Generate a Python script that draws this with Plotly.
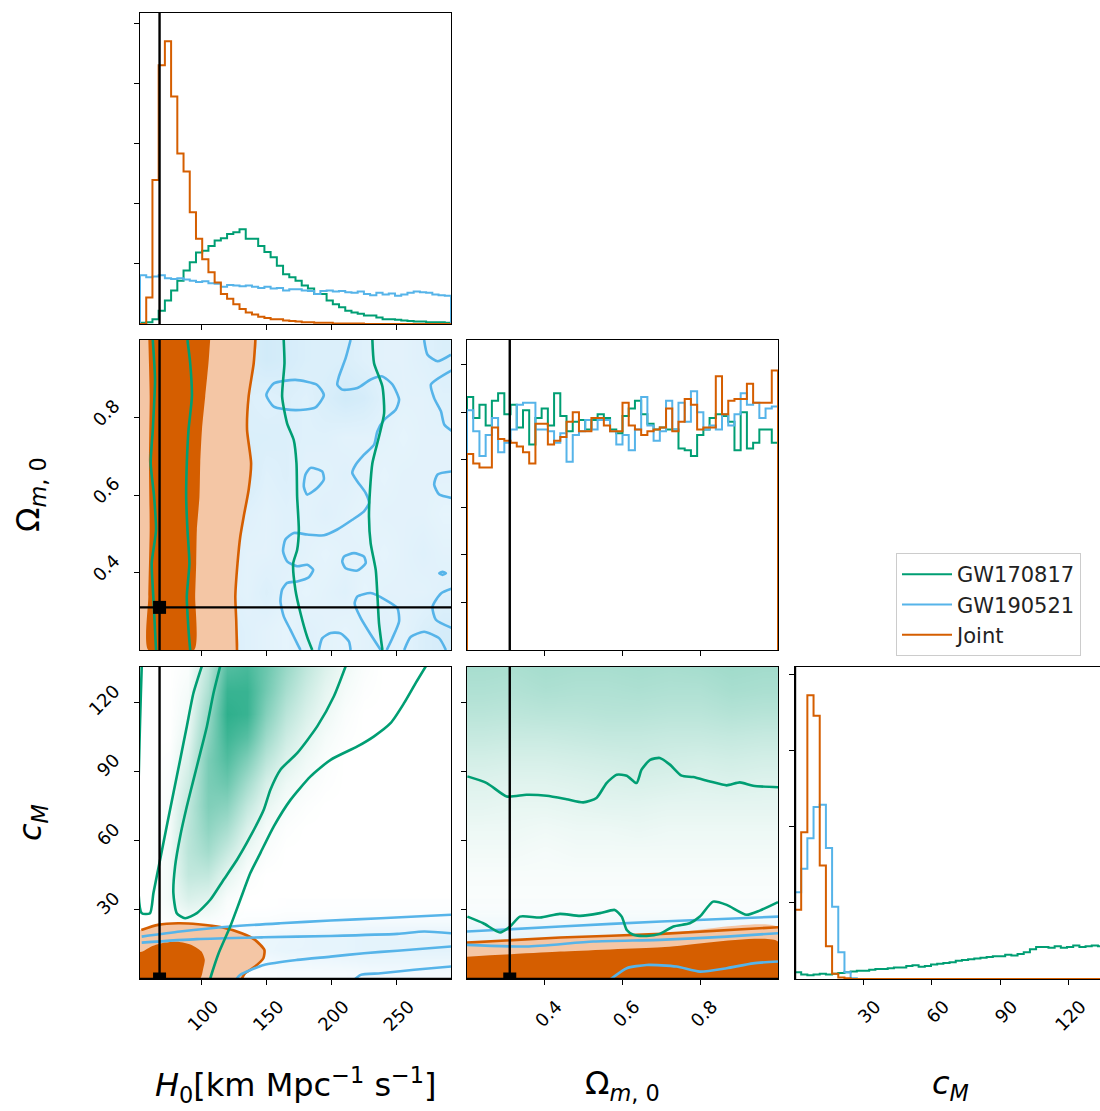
import numpy as np
import plotly.graph_objects as go

# ---------------- axis ranges / truth values ----------------
H0_RANGE = [53.0, 291.5]
OM_RANGE = [0.2, 1.0]
CM_RANGE = [0.0, 135.5]
CM_XRANGE = [0.0, 133.7]
H0_TRUE = 68.0
OM_TRUE = 0.31
CM_TRUE = 0.0

names = ["GW170817", "GW190521", "Joint"]
GREEN, BLUE, ORANGE = "#009e73", "#56b4e9", "#d55e00"
LIGHT_ORANGE = "#f4c6a5"

# ---------------- 1D histograms (50 bins each) ----------------
h0_gw170817 = [0.02, 0.03, 0.08, 0.22, 0.39, 0.56, 0.72, 0.89, 1.03, 1.19,
               1.22, 1.30, 1.39, 1.43, 1.50, 1.53, 1.58, 1.42, 1.42, 1.30,
               1.20, 1.11, 0.97, 0.83, 0.78, 0.72, 0.64, 0.59, 0.50, 0.50,
               0.39, 0.33, 0.28, 0.22, 0.19, 0.17, 0.14, 0.14, 0.11, 0.08,
               0.08, 0.07, 0.06, 0.05, 0.04, 0.04, 0.03, 0.03, 0.03, 0.02]
h0_gw190521 = [0.81, 0.78, 0.79, 0.81, 0.76, 0.75, 0.76, 0.74, 0.72, 0.70,
               0.71, 0.68, 0.67, 0.62, 0.65, 0.64, 0.63, 0.64, 0.62, 0.60,
               0.62, 0.59, 0.60, 0.56, 0.58, 0.58, 0.56, 0.55, 0.50, 0.55,
               0.56, 0.54, 0.55, 0.53, 0.52, 0.54, 0.50, 0.48, 0.52, 0.49,
               0.51, 0.47, 0.49, 0.52, 0.54, 0.53, 0.52, 0.49, 0.48, 0.47]
h0_joint = [0.00, 0.44, 2.40, 4.31, 4.71, 3.79, 2.84, 2.54, 1.86, 1.42,
            1.08, 0.86, 0.69, 0.50, 0.42, 0.33, 0.25, 0.19, 0.16, 0.12,
            0.10, 0.08, 0.08, 0.06, 0.05, 0.04, 0.03, 0.03, 0.02, 0.02,
            0.02, 0.01, 0.01, 0.01, 0.01, 0.01, 0.00, 0.00, 0.00, 0.00,
            0.00, 0.00, 0.00, 0.00, 0.00, 0.00, 0.00, 0.00, 0.00, 0.00]

om_gw170817 = [1.33, 1.22, 1.29, 1.18, 1.31, 1.35, 1.24, 1.29, 1.17, 1.26,
               1.08, 1.22, 1.27, 1.18, 1.35, 1.23, 1.15, 1.20, 1.21, 1.16,
               1.21, 1.24, 1.22, 1.16, 1.14, 1.23, 1.27, 1.31, 1.24, 1.19,
               1.16, 1.17, 1.16, 1.16, 1.06, 1.05, 1.02, 1.13, 1.16, 1.22,
               1.24, 1.23, 1.20, 1.05, 1.25, 1.06, 1.09, 1.16, 1.16, 1.09]
om_gw190521 = [1.26, 1.15, 1.02, 1.13, 1.22, 1.04, 1.09, 1.16, 1.29, 1.30,
               1.30, 1.16, 1.16, 1.15, 1.09, 1.14, 0.99, 1.13, 1.15, 1.21,
               1.16, 1.21, 1.21, 1.15, 1.08, 1.13, 1.05, 1.16, 1.33, 1.18,
               1.10, 1.15, 1.31, 1.16, 1.30, 1.20, 1.36, 1.25, 1.16, 1.18,
               1.16, 1.24, 1.18, 1.24, 1.35, 1.29, 1.30, 1.22, 1.27, 1.28]
om_joint = [1.03, 0.98, 0.96, 0.96, 1.17, 1.11, 1.10, 1.09, 1.07, 1.04,
            0.98, 1.19, 1.19, 1.08, 1.10, 1.12, 1.20, 1.25, 1.15, 1.15,
            1.22, 1.22, 1.18, 1.15, 1.15, 1.30, 1.18, 1.16, 1.13, 1.15,
            1.16, 1.17, 1.27, 1.15, 1.20, 1.32, 1.29, 1.16, 1.17, 1.17,
            1.44, 1.24, 1.31, 1.32, 1.32, 1.40, 1.30, 1.30, 1.30, 1.47]

cm_gw170817 = [0.09, 0.06, 0.05, 0.06, 0.07, 0.06, 0.07, 0.08, 0.09, 0.10,
               0.11, 0.11, 0.12, 0.13, 0.13, 0.14, 0.15, 0.15, 0.17, 0.18,
               0.16, 0.17, 0.19, 0.20, 0.21, 0.22, 0.24, 0.25, 0.26, 0.27,
               0.28, 0.29, 0.30, 0.30, 0.32, 0.31, 0.33, 0.35, 0.39, 0.42,
               0.42, 0.41, 0.43, 0.41, 0.42, 0.44, 0.42, 0.43, 0.44, 0.43]
cm_gw190521 = [1.14, 1.45, 1.85, 2.26, 2.29, 1.72, 0.95, 0.35, 0.09, 0.01,
               0.00, 0.00, 0.00, 0.00, 0.00, 0.00, 0.00, 0.00, 0.00, 0.00,
               0.00, 0.00, 0.00, 0.00, 0.00, 0.00, 0.00, 0.00, 0.00, 0.00,
               0.00, 0.00, 0.00, 0.00, 0.00, 0.00, 0.00, 0.00, 0.00, 0.00,
               0.00, 0.00, 0.00, 0.00, 0.00, 0.00, 0.00, 0.00, 0.00, 0.00]
cm_joint = [0.91, 1.93, 3.73, 3.46, 1.49, 0.43, 0.07, 0.02, 0.01, 0.00,
            0.00, 0.00, 0.00, 0.00, 0.00, 0.00, 0.00, 0.00, 0.00, 0.00,
            0.00, 0.00, 0.00, 0.00, 0.00, 0.00, 0.00, 0.00, 0.00, 0.00,
            0.00, 0.00, 0.00, 0.00, 0.00, 0.00, 0.00, 0.00, 0.00, 0.00,
            0.00, 0.00, 0.00, 0.00, 0.00, 0.00, 0.00, 0.00, 0.00, 0.00]

# ---------------- 2D density shading ----------------
hm_h0 = [60, 75, 90, 105, 120, 135, 150, 165, 180, 195, 210, 225, 240, 255, 270, 285]
hm_om_rows = [0.25, 0.35, 0.45, 0.55, 0.65, 0.75, 0.85, 0.95]
hm_om_cols = [0.24, 0.32, 0.40, 0.48, 0.56, 0.64, 0.72, 0.80, 0.88, 0.96]
hm_cm_rows = [5, 15, 25, 35, 45, 55, 65, 75, 85, 95, 105, 115, 125, 135]
hm_cm_low_rows = [2.5, 7.5, 12.5, 17.5, 22.5, 27.5, 32.5]

gw190521_h0_om_dens = [
    [0.17, 0.17, 0.17, 0.19, 0.22, 0.19, 0.17, 0.15, 0.19, 0.17, 0.15, 0.17, 0.19, 0.17, 0.22, 0.25],
    [0.17, 0.17, 0.17, 0.19, 0.19, 0.17, 0.21, 0.17, 0.15, 0.17, 0.19, 0.15, 0.17, 0.17, 0.17, 0.19],
    [0.17, 0.17, 0.17, 0.17, 0.21, 0.17, 0.17, 0.19, 0.17, 0.15, 0.17, 0.17, 0.15, 0.17, 0.19, 0.17],
    [0.19, 0.19, 0.19, 0.22, 0.25, 0.19, 0.17, 0.19, 0.17, 0.19, 0.17, 0.15, 0.17, 0.17, 0.17, 0.15],
    [0.19, 0.19, 0.19, 0.22, 0.27, 0.25, 0.19, 0.21, 0.17, 0.17, 0.19, 0.17, 0.15, 0.17, 0.17, 0.17],
    [0.17, 0.17, 0.17, 0.19, 0.23, 0.22, 0.22, 0.21, 0.19, 0.19, 0.17, 0.17, 0.17, 0.15, 0.17, 0.17],
    [0.17, 0.17, 0.17, 0.17, 0.19, 0.21, 0.19, 0.21, 0.19, 0.23, 0.27, 0.25, 0.19, 0.17, 0.17, 0.19],
    [0.17, 0.17, 0.17, 0.19, 0.19, 0.23, 0.27, 0.25, 0.22, 0.21, 0.22, 0.19, 0.17, 0.17, 0.19, 0.22],
]
gw170817_h0_cm_dens = [
    [0, 0, 0, 0, 0, 0, 0, 0, 0, 0, 0, 0, 0, 0, 0, 0],
    [0, 0, 0, 0, 0, 0, 0, 0, 0, 0, 0, 0, 0, 0, 0, 0],
    [0, 0.01, 0.03, 0.02, 0, 0, 0, 0, 0, 0, 0, 0, 0, 0, 0, 0],
    [0, 0.05, 0.15, 0.12, 0.03, 0, 0, 0, 0, 0, 0, 0, 0, 0, 0, 0],
    [0, 0.05, 0.24, 0.24, 0.10, 0.02, 0, 0, 0, 0, 0, 0, 0, 0, 0, 0],
    [0, 0.05, 0.27, 0.36, 0.22, 0.07, 0.02, 0, 0, 0, 0, 0, 0, 0, 0, 0],
    [0, 0.04, 0.27, 0.44, 0.34, 0.14, 0.04, 0.01, 0, 0, 0, 0, 0, 0, 0, 0],
    [0, 0.03, 0.25, 0.50, 0.46, 0.24, 0.09, 0.03, 0.01, 0, 0, 0, 0, 0, 0, 0],
    [0, 0.02, 0.20, 0.52, 0.58, 0.36, 0.16, 0.07, 0.03, 0.01, 0, 0, 0, 0, 0, 0],
    [0, 0.01, 0.15, 0.52, 0.68, 0.50, 0.27, 0.13, 0.06, 0.02, 0, 0, 0, 0, 0, 0],
    [0, 0, 0.10, 0.46, 0.76, 0.66, 0.38, 0.20, 0.10, 0.04, 0.01, 0, 0, 0, 0, 0],
    [0, 0, 0.06, 0.40, 0.82, 0.78, 0.48, 0.27, 0.15, 0.07, 0.02, 0, 0, 0, 0, 0],
    [0, 0, 0.04, 0.32, 0.78, 0.78, 0.55, 0.34, 0.20, 0.10, 0.04, 0.01, 0, 0, 0, 0],
    [0, 0, 0.02, 0.26, 0.68, 0.72, 0.58, 0.40, 0.25, 0.14, 0.06, 0.02, 0, 0, 0, 0],
]
gw190521_h0_cm_dens = [
    [0, 0, 0, 0, 0, 0.02, 0.04, 0.05, 0.05, 0.06, 0.06, 0.07, 0.08, 0.08, 0.08, 0.08],
    [0, 0, 0, 0, 0.03, 0.06, 0.08, 0.10, 0.10, 0.10, 0.11, 0.12, 0.12, 0.12, 0.12, 0.12],
    [0, 0, 0, 0.03, 0.06, 0.10, 0.12, 0.14, 0.14, 0.15, 0.15, 0.16, 0.16, 0.16, 0.16, 0.16],
    [0, 0, 0, 0.03, 0.06, 0.09, 0.12, 0.13, 0.14, 0.15, 0.15, 0.16, 0.16, 0.16, 0.17, 0.17],
    [0, 0, 0, 0.02, 0.04, 0.05, 0.06, 0.07, 0.08, 0.08, 0.09, 0.10, 0.10, 0.10, 0.10, 0.10],
    [0, 0, 0, 0, 0.01, 0.02, 0.02, 0.03, 0.03, 0.03, 0.04, 0.04, 0.04, 0.04, 0.04, 0.04],
    [0, 0, 0, 0, 0, 0, 0, 0.01, 0.01, 0.01, 0.01, 0.01, 0.01, 0.01, 0.01, 0.01],
]
gw170817_om_cm_dens = [
    [0, 0, 0, 0, 0, 0, 0, 0, 0, 0],
    [0, 0, 0, 0, 0, 0, 0, 0, 0, 0],
    [0.01, 0.01, 0.01, 0.01, 0.01, 0.01, 0.01, 0.01, 0.01, 0.01],
    [0.02, 0.02, 0.02, 0.02, 0.02, 0.02, 0.02, 0.02, 0.02, 0.02],
    [0.03, 0.03, 0.03, 0.03, 0.03, 0.03, 0.03, 0.03, 0.03, 0.03],
    [0.05, 0.05, 0.04, 0.05, 0.05, 0.05, 0.05, 0.05, 0.05, 0.05],
    [0.07, 0.07, 0.06, 0.07, 0.07, 0.08, 0.07, 0.07, 0.07, 0.07],
    [0.10, 0.09, 0.09, 0.10, 0.11, 0.11, 0.10, 0.10, 0.10, 0.10],
    [0.13, 0.12, 0.12, 0.13, 0.14, 0.15, 0.14, 0.13, 0.14, 0.13],
    [0.17, 0.16, 0.16, 0.17, 0.18, 0.19, 0.18, 0.17, 0.18, 0.17],
    [0.22, 0.21, 0.21, 0.22, 0.23, 0.23, 0.22, 0.22, 0.23, 0.22],
    [0.27, 0.26, 0.27, 0.27, 0.28, 0.28, 0.27, 0.27, 0.29, 0.28],
    [0.31, 0.30, 0.32, 0.31, 0.31, 0.32, 0.31, 0.31, 0.34, 0.33],
    [0.34, 0.33, 0.35, 0.34, 0.34, 0.35, 0.34, 0.35, 0.37, 0.36],
]
gw190521_om_cm_dens = [
    [0.10, 0.10, 0.10, 0.10, 0.10, 0.10, 0.10, 0.10, 0.10, 0.10],
    [0.12, 0.12, 0.12, 0.12, 0.12, 0.12, 0.12, 0.12, 0.12, 0.12],
    [0.14, 0.14, 0.14, 0.14, 0.14, 0.14, 0.14, 0.14, 0.14, 0.14],
    [0.14, 0.14, 0.14, 0.14, 0.14, 0.14, 0.14, 0.14, 0.14, 0.14],
    [0.10, 0.10, 0.10, 0.10, 0.10, 0.10, 0.10, 0.10, 0.10, 0.10],
    [0.04, 0.04, 0.04, 0.04, 0.04, 0.04, 0.04, 0.04, 0.04, 0.04],
    [0.01, 0.01, 0.01, 0.01, 0.01, 0.01, 0.01, 0.01, 0.01, 0.01],
]

# ---------------- credible-region contours ----------------
# H0 - Omega_m panel
joint_ho_2s_h0 = [141.5, 140.2, 136.3, 135.1, 138.2, 136.3, 132.5, 129.9, 127.8, 126.1, 126.8, 127.4]
joint_ho_2s_om = [1.0, 0.94, 0.854, 0.768, 0.682, 0.613, 0.544, 0.493, 0.424, 0.338, 0.277, 0.2]
joint_ho_1s_left_h0 = [59.4, 60.4, 59.9, 60.4, 59.4, 59.4]
joint_ho_1s_left_om = [1.0, 0.854, 0.682, 0.51, 0.338, 0.2]
joint_ho_1s_right_h0 = [106.8, 105.5, 103.0, 100.5, 99.2, 98.6, 96.6, 96.1, 95.3, 94.5]
joint_ho_1s_right_om = [1.0, 0.94, 0.854, 0.768, 0.682, 0.596, 0.51, 0.424, 0.338, 0.2]

gw17_ho_lines = [
    ([62.8, 64.5, 62.8, 61.2, 63.8, 65.3, 62.0, 63.2, 65.3],
     [1.0, 0.897, 0.768, 0.682, 0.596, 0.51, 0.424, 0.338, 0.2]),
    ([89.4, 91.5, 92.8, 90.2, 88.9, 88.4, 89.4, 90.9, 88.9, 90.2, 91.5],
     [1.0, 0.94, 0.854, 0.768, 0.682, 0.596, 0.51, 0.424, 0.338, 0.252, 0.2]),
    ([163.2, 163.8, 162.0, 165.8, 170.9, 173.0, 173.5, 174.8, 173.5, 170.5, 172.2, 176.1, 181.2, 185.1],
     [1.0, 0.94, 0.854, 0.785, 0.742, 0.682, 0.596, 0.51, 0.458, 0.424, 0.355, 0.295, 0.234, 0.2]),
    ([231.2, 232.5, 238.9, 240.2, 236.3, 231.2, 229.4, 228.6, 229.9, 233.8, 235.1, 236.3, 238.9],
     [1.0, 0.94, 0.88, 0.811, 0.751, 0.682, 0.613, 0.544, 0.475, 0.406, 0.338, 0.269, 0.2]),
]
gw19_ho_lines = [
    ([149.9, 155.6, 172.2, 188.9, 194.0, 187.6, 172.2, 155.6, 149.9],
     [0.858, 0.888, 0.897, 0.884, 0.858, 0.826, 0.819, 0.828, 0.858]),
    ([214.5, 210.7, 205.6, 204.3, 208.1, 219.7, 229.9, 238.9, 246.6, 251.7, 249.1, 240.2, 235.0, 232.5,
      224.8, 218.4, 215.8, 219.7, 226.1, 228.6, 224.8, 215.8, 204.3, 194.0, 181.2, 171.0, 164.5, 162.7,
      165.8, 173.5, 181.2, 185.8, 182.5, 173.5, 165.8, 162.0, 160.7, 163.3, 168.4, 173.5, 176.1],
     [1.0, 0.953, 0.906, 0.885, 0.872, 0.876, 0.898, 0.906, 0.885, 0.846, 0.820, 0.794, 0.764, 0.730,
      0.704, 0.678, 0.657, 0.635, 0.605, 0.579, 0.558, 0.536, 0.511, 0.496, 0.498, 0.502, 0.485, 0.455,
      0.429, 0.416, 0.420, 0.407, 0.388, 0.377, 0.373, 0.356, 0.326, 0.286, 0.252, 0.217, 0.2]),
    ([183.8, 192.7, 194.0, 188.9, 181.2, 178.6, 179.9, 183.8],
     [0.670, 0.661, 0.640, 0.618, 0.601, 0.622, 0.653, 0.670]),
    ([209.4, 217.1, 224.8, 226.1, 219.7, 210.7, 208.1, 209.4],
     [0.441, 0.450, 0.441, 0.424, 0.405, 0.411, 0.428, 0.441]),
    ([282.5, 285.0, 287.6, 285.0, 282.5],
     [0.398, 0.402, 0.398, 0.394, 0.398]),
    ([237.6, 229.9, 222.2, 217.6, 219.7, 229.9, 241.5, 250.4, 251.7, 246.6, 242.2],
     [0.2, 0.240, 0.283, 0.320, 0.338, 0.347, 0.329, 0.308, 0.274, 0.231, 0.2]),
    ([190.2, 192.7, 199.2, 206.8, 213.2, 214.5],
     [0.2, 0.230, 0.244, 0.243, 0.222, 0.2]),
    ([270.9, 273.5, 281.2, 291.5],
     [1.0, 0.962, 0.945, 0.962]),
    ([292.7, 276.1, 278.6, 283.8, 286.3, 292.7],
     [0.923, 0.885, 0.850, 0.816, 0.782, 0.764]),
    ([292.7, 281.2, 278.6, 282.5, 292.7],
     [0.661, 0.653, 0.627, 0.601, 0.592]),
    ([292.7, 283.8, 277.3, 279.9, 292.7],
     [0.359, 0.346, 0.312, 0.278, 0.256]),
    ([255.6, 260.7, 270.9, 282.5, 287.6],
     [0.2, 0.234, 0.247, 0.230, 0.2]),
]

# H0 - c_M panel
joint_hc_2s_h0 = [54.0, 66.8, 82.2, 97.6, 115.6, 131.0, 141.2, 148.4, 147.6, 141.2, 133.5, 131.0]
joint_hc_2s_cm = [21.3, 23.5, 24.2, 23.8, 22.5, 19.9, 17.0, 12.6, 9.0, 5.4, 2.4, 0.0]
joint_hc_1s_h0 = [54.3, 61.7, 72.0, 82.2, 92.5, 100.2, 102.7, 101.5, 98.9]
joint_hc_1s_cm = [11.8, 14.1, 15.8, 16.2, 14.8, 11.9, 8.3, 4.6, 0.0]
gw17_hc_lines = [
    ([54.3, 54.3, 60.7, 63.3, 68.4, 73.5, 78.6, 83.8, 88.9, 94.0, 100.4],
     [135.5, 28.6, 28.6, 37.3, 51.8, 66.3, 80.7, 95.2, 109.7, 124.2, 135.8]),
    ([106.8, 108.1, 113.3, 122.2, 129.9, 137.6, 145.3, 155.6, 168.4, 183.8, 199.2, 219.7, 232.5, 245.3,
      255.6, 264.5, 272.2],
     [0.0, 2.5, 11.2, 22.8, 34.4, 46.0, 54.7, 66.3, 77.8, 88.0, 95.2, 101.0, 105.4, 111.2, 119.9, 128.6,
      135.8]),
    ([114.5, 109.4, 104.3, 99.2, 94.0, 88.9, 83.8, 79.9, 78.6, 81.2, 87.6, 96.6, 106.9, 117.1, 127.4,
      137.6, 147.9, 153.0, 160.7, 173.5, 188.9, 201.7, 210.7],
     [135.8, 124.2, 109.7, 98.1, 86.5, 74.9, 61.9, 48.9, 37.3, 28.6, 26.4, 28.6, 34.4, 43.1, 51.8, 61.9,
      73.5, 82.2, 90.9, 98.1, 109.7, 122.8, 135.8]),
]
gw19_hc_lines = [
    ([54.3, 83.8, 122.2, 160.7, 199.2, 237.6, 291.5], [18.4, 20.6, 22.8, 24.2, 25.4, 26.4, 27.9]),
    ([54.3, 96.6, 147.9, 199.2, 250.4, 270.9, 291.5], [15.8, 17.3, 18.1, 18.7, 19.6, 20.6, 19.9]),
    ([127.0, 129.9, 147.9, 173.5, 199.2, 224.8, 250.4, 291.5], [0.0, 1.8, 6.1, 8.3, 9.7, 11.2, 12.3, 14.1]),
    ([218.0, 222.2, 237.6, 263.3, 291.5], [0.0, 1.8, 2.5, 4.0, 5.4]),
]

# Omega_m - c_M panel
joint_oc_om = [0.2, 0.44, 0.7, 1.0]
joint_oc_2s_cm = [15.8, 18.0, 19.6, 22.5]
joint_oc_1s_cm = [9.7, 11.9, 13.8, 16.3]
gw17_oc_lines = [
    ([0.201, 0.251, 0.302, 0.353, 0.405, 0.456, 0.499, 0.533, 0.559, 0.585, 0.611, 0.636, 0.649, 0.671,
      0.696, 0.722, 0.752, 0.782, 0.825, 0.868, 0.902, 0.936, 1.0],
     [88.0, 85.1, 79.3, 80.0, 79.6, 78.1, 76.7, 78.6, 85.1, 88.7, 88.3, 85.1, 90.9, 95.2, 96.0, 93.1,
      88.3, 87.7, 85.8, 84.1, 85.4, 83.9, 83.3]),
    ([0.201, 0.242, 0.285, 0.311, 0.336, 0.388, 0.439, 0.491, 0.542, 0.580, 0.598, 0.611, 0.628, 0.662,
      0.696, 0.731, 0.773, 0.799, 0.833, 0.868, 0.919, 0.953, 1.0],
     [27.1, 24.2, 20.2, 22.8, 27.1, 26.7, 28.3, 27.4, 28.6, 30.0, 27.1, 21.3, 19.2, 18.7, 19.6, 22.8,
      24.2, 27.1, 33.6, 32.2, 27.9, 29.7, 33.4]),
]
gw19_oc_lines = [
    ([0.2, 0.44, 0.7, 1.0], [20.6, 22.8, 25.0, 27.1]),
    ([0.2, 0.353, 0.525, 0.696, 0.868, 1.0], [14.8, 14.1, 16.3, 17.0, 18.4, 19.9]),
    ([0.570, 0.611, 0.662, 0.739, 0.799, 0.868, 0.936, 1.0], [0.0, 4.7, 6.1, 5.4, 3.2, 4.7, 6.8, 7.6]),
]

# ---------------- figure ----------------
fig = go.Figure()


def step_xy(vals, lo, hi):
    edges = np.linspace(lo, hi, len(vals) + 1)
    xs = [edges[0]] + list(edges[:-1]) + [edges[-1], edges[-1]]
    ys = [0] + list(vals) + [vals[-1], 0]
    return xs, ys


def add_hist(vals, rng, color, ax, name=None, legend=False):
    xs, ys = step_xy(vals, rng[0], rng[1])
    fig.add_trace(go.Scatter(x=xs, y=ys, mode="lines", line=dict(color=color, width=2, shape="hv"),
                             xaxis="x" + ax, yaxis="y" + ax, name=name, showlegend=legend,
                             hoverinfo="skip"))


def add_heat(x, y, z, rgb, ax):
    fig.add_trace(go.Heatmap(x=x, y=y, z=z, zmin=0, zmax=1, zsmooth="best", showscale=False,
                             colorscale=[[0, "rgba(%s,0)" % rgb], [1, "rgba(%s,1)" % rgb]],
                             xaxis="x" + ax, yaxis="y" + ax, hoverinfo="skip"))


def add_fill(x, y, color, ax):
    fig.add_trace(go.Scatter(x=x, y=y, mode="lines", fill="toself", fillcolor=color,
                             line=dict(width=0, color=color, shape="spline", smoothing=0.6),
                             xaxis="x" + ax, yaxis="y" + ax, showlegend=False, hoverinfo="skip"))


def add_line(x, y, color, ax, width=2.6):
    fig.add_trace(go.Scatter(x=x, y=y, mode="lines",
                             line=dict(color=color, width=width, shape="spline", smoothing=0.6),
                             xaxis="x" + ax, yaxis="y" + ax, showlegend=False, hoverinfo="skip"))


# 1D histograms
add_hist(h0_gw170817, H0_RANGE, GREEN, "", names[0], True)
add_hist(h0_gw190521, H0_RANGE, BLUE, "", names[1], True)
add_hist(h0_joint, H0_RANGE, ORANGE, "", names[2], True)
add_hist(om_gw170817, OM_RANGE, GREEN, "3")
add_hist(om_gw190521, OM_RANGE, BLUE, "3")
add_hist(om_joint, OM_RANGE, ORANGE, "3")
add_hist(cm_gw170817, CM_RANGE, GREEN, "6")
add_hist(cm_gw190521, CM_RANGE, BLUE, "6")
add_hist(cm_joint, CM_RANGE, ORANGE, "6")

# shading
add_heat(hm_h0, hm_om_rows, gw190521_h0_om_dens, "86,180,233", "2")
add_heat(hm_h0, hm_cm_rows, gw170817_h0_cm_dens, "0,158,115", "4")
add_heat(hm_h0, hm_cm_low_rows, gw190521_h0_cm_dens, "86,180,233", "4")
add_heat(hm_om_cols, hm_cm_rows, gw170817_om_cm_dens, "0,158,115", "5")
add_heat(hm_om_cols, hm_cm_low_rows, gw190521_om_cm_dens, "86,180,233", "5")

# joint filled regions, H0-Om
add_fill([H0_RANGE[0] - 5] + joint_ho_2s_h0 + [H0_RANGE[0] - 5],
         [OM_RANGE[1]] + joint_ho_2s_om + [OM_RANGE[0]], LIGHT_ORANGE, "2")
add_fill(joint_ho_1s_left_h0 + joint_ho_1s_right_h0[::-1],
         joint_ho_1s_left_om + joint_ho_1s_right_om[::-1], ORANGE, "2")
add_line(joint_ho_2s_h0, joint_ho_2s_om, ORANGE, "2")
for xs, ys in gw19_ho_lines:
    add_line(xs, ys, BLUE, "2")
for xs, ys in gw17_ho_lines:
    add_line(xs, ys, GREEN, "2")

# joint filled regions, H0-cM
add_fill([H0_RANGE[0] - 5] + joint_hc_2s_h0 + [H0_RANGE[0] - 5],
         [joint_hc_2s_cm[0]] + joint_hc_2s_cm + [-3], LIGHT_ORANGE, "4")
add_fill([H0_RANGE[0] - 5] + joint_hc_1s_h0 + [H0_RANGE[0] - 5],
         [joint_hc_1s_cm[0]] + joint_hc_1s_cm + [-3], ORANGE, "4")
add_line(joint_hc_2s_h0, joint_hc_2s_cm, ORANGE, "4")
for xs, ys in gw19_hc_lines:
    add_line(xs, ys, BLUE, "4")
for xs, ys in gw17_hc_lines:
    add_line(xs, ys, GREEN, "4")

# joint filled regions, Om-cM
add_fill(joint_oc_om + [OM_RANGE[1], OM_RANGE[0]], joint_oc_2s_cm + [-3, -3], LIGHT_ORANGE, "5")
add_fill(joint_oc_om + [OM_RANGE[1], OM_RANGE[0]], joint_oc_1s_cm + [-3, -3], ORANGE, "5")
add_line(joint_oc_om, joint_oc_2s_cm, ORANGE, "5")
for xs, ys in gw19_oc_lines:
    add_line(xs, ys, BLUE, "5")
for xs, ys in gw17_oc_lines:
    add_line(xs, ys, GREEN, "5")

# truth markers
for xv, yv, ax in [(H0_TRUE, OM_TRUE, "2"), (H0_TRUE, CM_TRUE, "4"), (OM_TRUE, CM_TRUE, "5")]:
    fig.add_trace(go.Scatter(x=[xv], y=[yv], mode="markers", cliponaxis=True,
                             marker=dict(symbol="square", size=13, color="black"),
                             xaxis="x" + ax, yaxis="y" + ax, showlegend=False, hoverinfo="skip"))

TRUTH_LINE = dict(color="black", width=2.4)
shapes = []
for ax in ["", "2", "4"]:
    shapes.append(dict(type="line", xref="x" + ax, yref="y%s domain" % ax, x0=H0_TRUE, x1=H0_TRUE,
                       y0=0, y1=1, line=TRUTH_LINE))
for ax in ["3", "5"]:
    shapes.append(dict(type="line", xref="x" + ax, yref="y%s domain" % ax, x0=OM_TRUE, x1=OM_TRUE,
                       y0=0, y1=1, line=TRUTH_LINE))
shapes.append(dict(type="line", xref="x2 domain", yref="y2", x0=0, x1=1, y0=OM_TRUE, y1=OM_TRUE,
                   line=TRUTH_LINE))
for ax in ["4", "5"]:
    shapes.append(dict(type="line", xref="x%s domain" % ax, yref="y" + ax, x0=0, x1=1, y0=CM_TRUE,
                       y1=CM_TRUE, line=TRUTH_LINE))
shapes.append(dict(type="line", xref="x6", yref="y6 domain", x0=CM_TRUE, x1=CM_TRUE, y0=0, y1=1,
                   line=TRUTH_LINE))

# ---------------- layout ----------------
W, H = 1100, 1111
c0 = [140 / W, 451 / W]
c1 = [467 / W, 778 / W]
c2 = [795 / W, 1.0]
r0 = [1 - 324 / H, 1 - 13 / H]
r1 = [1 - 650 / H, 1 - 340 / H]
r2 = [1 - 979 / H, 1 - 667 / H]

TICKFONT = dict(family="DejaVu Sans", size=18, color="black")


def axis(domain, rng, tickvals, labels, anchor, shift=0, standoff=0):
    d = dict(domain=domain, range=rng, anchor=anchor, tickvals=tickvals, showticklabels=labels,
             ticks="outside", ticklen=5, tickwidth=1, tickcolor="black", showline=True,
             linecolor="black", linewidth=1, mirror=True, showgrid=False, zeroline=False,
             tickangle=-45, tickfont=TICKFONT, ticklabelshift=shift, fixedrange=True)
    if standoff:
        d["ticklabelstandoff"] = standoff
    return d


h0_ticks = [100, 150, 200, 250]
om_ticks = [0.4, 0.6, 0.8]
cm_ticks = [30, 60, 90, 120]

fig.update_layout(
    width=W, height=H, margin=dict(l=0, r=0, t=0, b=0),
    paper_bgcolor="white", plot_bgcolor="white",
    font=dict(family="DejaVu Sans", color="black"),
    xaxis=axis(c0, H0_RANGE, h0_ticks, False, "y"),
    yaxis=axis(r0, [0, 5.18], [1, 2, 3, 4, 5], False, "x"),
    xaxis2=axis(c0, H0_RANGE, h0_ticks, False, "y2"),
    yaxis2=axis(r1, OM_RANGE, om_ticks, True, "x2", -14, 16),
    xaxis3=axis(c1, OM_RANGE, om_ticks, False, "y3"),
    yaxis3=axis(r1, [0, 1.63], [0.25, 0.5, 0.75, 1.0, 1.25, 1.5], False, "x3"),
    xaxis4=axis(c0, H0_RANGE, h0_ticks, True, "y4", 12, 4),
    yaxis4=axis(r2, CM_RANGE, cm_ticks, True, "x4", -14, 16),
    xaxis5=axis(c1, OM_RANGE, om_ticks, True, "y5", 12, 4),
    yaxis5=axis(r2, CM_RANGE, cm_ticks, False, "x5"),
    xaxis6=axis(c2, CM_XRANGE, cm_ticks, True, "y6", 12, 4),
    yaxis6=axis(r2, [0, 4.1], [1, 2, 3, 4], False, "x6"),
    shapes=shapes,
    showlegend=True,
    legend=dict(x=896 / W, y=1 - 553 / H, xanchor="left", yanchor="top", itemwidth=50,
                bgcolor="white", bordercolor="#cccccc", borderwidth=1,
                font=dict(family="DejaVu Sans", size=21, color="#222222")),
)

LABELFONT = dict(family="DejaVu Sans", size=32, color="black")
annotations = [
    dict(text="<i>H</i><sub>0</sub>[km Mpc<sup>\u22121</sup> s<sup>\u22121</sup>]",
         x=(c0[0] + c0[1]) / 2, y=1 - 1085 / H),
    dict(text="\u03a9<sub><i>m</i>, 0</sub>", x=(c1[0] + c1[1]) / 2, y=1 - 1085 / H),
    dict(text="<i>c</i><sub><i>M</i></sub>", x=(795 + 1106) / 2 / W, y=1 - 1085 / H),
    dict(text="\u03a9<sub><i>m</i>, 0</sub>", x=30 / W, y=(r1[0] + r1[1]) / 2, textangle=-90),
    dict(text="<i>c</i><sub><i>M</i></sub>", x=32 / W, y=(r2[0] + r2[1]) / 2, textangle=-90),
]
for a in annotations:
    a.update(xref="paper", yref="paper", showarrow=False, font=LABELFONT, xanchor="center",
             yanchor="middle")
fig.update_layout(annotations=annotations)

fig.write_html("out.html")
